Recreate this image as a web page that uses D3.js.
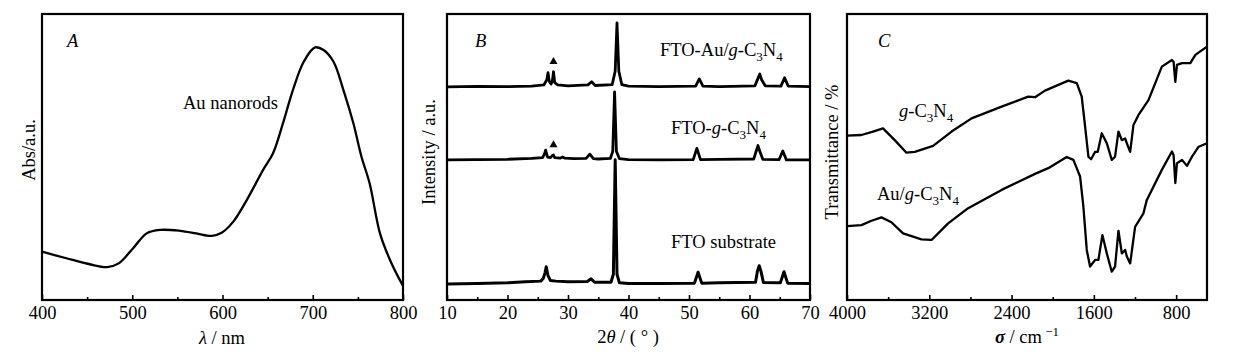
<!DOCTYPE html>
<html><head><meta charset="utf-8">
<script src="https://cdn.jsdelivr.net/npm/d3@7"></script>
<style>
body{margin:0;background:#fff;}
svg text{font-family:"Liberation Serif","Times New Roman",serif;fill:#000;}
</style></head>
<body><svg id="c" width="1237" height="360"></svg>
<script>
// ---------- Panel A: UV-vis ----------
const uvLambda = [400,427,453,472,485,501,516,531,553,571,588,599,612,627,645,656,667,678,690,702.5,712,723,734,745,754,763,774.5,785.6,798.5,800];
const uvAbs    = [16.9,14.6,12.5,11.5,12.8,18.1,23.3,24.5,24.2,23.3,22.4,23.5,27.4,35,45.5,51.3,61.8,73.4,83.3,88.3,87.4,83.3,73.4,61.8,50.1,40.8,23.3,14,5.8,5.0];
const uvTicksMajor = [400,500,600,700,800];
const uvTicksMinor = [450,550,650,750];

// ---------- Panel B: XRD ----------
const xrdTopTheta = [10,15,20,24,26.0,26.5,26.7,26.9,27.2,27.45,27.6,27.8,28.3,30,33.3,33.9,34.5,37.3,37.8,38.1,38.4,38.9,40,45,51.1,51.7,52.3,55,60.9,61.4,61.7,62.0,62.6,65.2,65.8,66.4,70];
const xrdTopI     = [74.5,74.7,74.6,74.8,75.2,77,79.5,76.5,75.5,77,79.8,76,75.2,74.9,75.2,76.3,75.0,75.3,80,96.9,80,75.3,74.8,74.6,74.8,77.3,74.8,74.6,74.9,77.5,79.0,77,74.9,74.8,77.7,74.8,74.6];
const xrdMidTheta = [10,15,20,24,25.8,26.1,26.3,26.6,27.1,27.4,27.6,27.8,28.7,29.1,29.5,31,33.0,33.6,34.2,35,37.0,37.4,37.7,38.0,38.5,40,45,50.7,51.3,51.9,55,60.7,61.1,61.4,61.7,62.2,64.9,65.5,66.1,70];
const xrdMidI     = [49,49.1,49.2,49.5,49.8,51,52.4,50,49.8,50.5,50.7,49.8,49.6,50,49.6,49.4,49.5,51.0,49.4,49.3,49.5,52,72.8,52,49.4,49.1,49.0,49.1,53,49.1,49.2,49.3,52,54,52,49.2,49.1,52.1,49,49];
const xrdBotTheta = [10,15,20,23,25.5,25.9,26.2,26.4,26.7,27.1,28,30,33.2,33.8,34.4,37.1,37.5,37.8,38.1,38.5,40,45,50.9,51.5,52.1,55,61.0,61.3,61.6,61.9,62.3,65.1,65.7,66.3,70];
const xrdBotI     = [5.6,5.8,6.0,6.4,6.6,7.5,9.5,11.6,8.5,6.8,6.6,6.4,6.5,7.4,6.2,6.2,9,49,9,6,5.8,5.8,5.9,9.7,5.9,6.0,6.2,10,12.0,10,6.1,6.0,9.9,5.9,5.8];
const xrdMarkTheta = [27.6,27.6];
const xrdMarkI     = [83.3,54.2];
const xrdTicksMajor = [10,20,30,40,50,60,70];
const xrdTicksMinor = [15,25,35,45,55,65];

// ---------- Panel C: FTIR ----------
const irW1 = [4000,3860,3747,3650,3536,3422,3341,3163,2983,2789,2497,2238,2172,2075,1848,1766,1718,1685,1653,1627,1588,1562,1523,1474,1426,1394,1361,1328,1296,1279,1247,1215,1166,1069,939,841,825,808,792,743,662,613,500];
const irT1 = [57.5,57.7,58.9,60.0,55.9,51.5,51.8,53.9,58.9,63.5,67.6,71.1,70.9,73.2,76.7,75.8,71.1,60.6,50.1,49.2,51.8,51.8,58.3,54.8,49.0,50.1,58.9,55.9,56.5,54.8,51.8,61.2,64.7,69.9,81.6,83.9,83.3,76.3,82.2,82.8,82.8,85.7,88.6];
const irW2 = [4000,3860,3762,3665,3568,3455,3276,3178,3017,2822,2497,2172,2043,1864,1799,1734,1702,1669,1637,1588,1556,1517,1474,1426,1394,1361,1328,1296,1279,1247,1199,1118,1085,939,841,825,808,792,743,695,646,581,500];
const irT2 = [25.8,26.2,27.7,28.9,27.2,23.3,21.2,21.0,26.8,32.1,38.5,44.1,46.1,50.0,49.0,43.2,32.7,17.5,11.7,14.0,14.0,22.7,16.3,9.9,11.7,24.2,16.3,17.5,15.2,12.8,25.6,30.3,35.0,45.5,51.9,50.7,40.9,47.8,49.0,46.9,50.1,53.6,54.8];
const irTicksMajor = [4000,3200,2400,1600,800];
const irTicksMinor = [3600,2800,2000,1200];

const svg = d3.select("#c");
const Y0 = 300, Y1 = 14;
const FS = 18.5, FSS = 13;

function panel(x0, x1, domain, majors, minors) {
  const x = d3.scaleLinear().domain(domain).range([x0, x1]);
  const y = d3.scaleLinear().domain([0, 100]).range([Y0, Y1]);
  const g = svg.append("g");
  const ax = g.append("g").attr("transform", `translate(0,${Y0})`)
    .call(d3.axisBottom(x).tickValues(majors).tickSizeInner(-5).tickSizeOuter(0).tickPadding(6).tickFormat(d3.format("d")));
  ax.select(".domain").remove();
  ax.selectAll(".tick line").attr("stroke", "#000").attr("stroke-width", 1.6);
  ax.selectAll(".tick text").attr("font-size", FS).attr("font-family", "Liberation Serif").attr("fill", "#000");
  const axm = g.append("g").attr("transform", `translate(0,${Y0})`)
    .call(d3.axisBottom(x).tickValues(minors).tickSizeInner(-3).tickSizeOuter(0).tickFormat(""));
  axm.select(".domain").remove();
  axm.selectAll(".tick line").attr("stroke", "#000").attr("stroke-width", 1.6);
  return {x, y, g};
}
function frame(g, x0, x1) {
  g.append("rect").attr("x", x0).attr("y", Y1).attr("width", x1 - x0).attr("height", Y0 - Y1)
    .attr("fill", "none").attr("stroke", "#000").attr("stroke-width", 2.2);
}
function drawLine(p, xs, ys, curve, w) {
  const pts = xs.map((v, i) => [v, ys[i]]);
  p.g.append("path").datum(pts).attr("fill", "none").attr("stroke", "#000")
    .attr("stroke-width", w).attr("stroke-linejoin", "round")
    .attr("d", d3.line().x(d => p.x(d[0])).y(d => p.y(d[1])).curve(curve));
}
function label(g, x, y, parts, size) {
  const t = g.append("text").attr("x", x).attr("y", y).attr("font-size", size || FS);
  parts.forEach(pt => {
    const s = t.append("tspan").text(pt.t);
    if (pt.i) s.attr("font-style", "italic");
    if (pt.b) s.attr("font-weight", "bold");
    if (pt.sub) s.attr("font-size", FSS).attr("dy", 5);
    if (pt.up) s.attr("dy", -5);
    if (pt.sup) s.attr("font-size", FSS).attr("dy", -7);
  });
  return t;
}
function ytitle(g, x, y, parts) {
  const t = label(g, 0, 0, parts);
  t.attr("text-anchor", "middle").attr("transform", `translate(${x},${y}) rotate(-90)`);
}

// Panel A
const A = panel(42, 403, [400, 800], uvTicksMajor, uvTicksMinor);
drawLine(A, uvLambda, uvAbs, d3.curveCatmullRom, 2.3);
frame(A.g, 42, 403);
label(A.g, 67, 47, [{t: "A", i: 1}]);
label(A.g, 183, 109, [{t: "Au nanorods"}]);
label(A.g, 222, 344, [{t: "λ", i: 1}, {t: " / nm"}]).attr("text-anchor", "middle");
ytitle(A.g, 35, 150, [{t: "Abs/a.u."}]);

// Panel B
const B = panel(447, 810, [10, 70], xrdTicksMajor, xrdTicksMinor);
drawLine(B, xrdTopTheta, xrdTopI, d3.curveLinear, 2.8);
drawLine(B, xrdMidTheta, xrdMidI, d3.curveLinear, 2.8);
drawLine(B, xrdBotTheta, xrdBotI, d3.curveLinear, 3.0);
B.g.selectAll(".mk").data(xrdMarkTheta.map((v, i) => [v, xrdMarkI[i]])).enter().append("path")
  .attr("transform", d => `translate(${B.x(d[0])},${B.y(d[1])})`)
  .attr("d", d3.symbol(d3.symbolTriangle, 28)).attr("fill", "#000");
frame(B.g, 447, 810);
label(B.g, 475, 47, [{t: "B", i: 1}]);
label(B.g, 660, 56, [{t: "FTO-Au/"}, {t: "g", i: 1}, {t: "-C"}, {t: "3", sub: 1}, {t: "N", up: 1}, {t: "4", sub: 1}]);
label(B.g, 671, 134, [{t: "FTO-"}, {t: "g", i: 1}, {t: "-C"}, {t: "3", sub: 1}, {t: "N", up: 1}, {t: "4", sub: 1}]);
label(B.g, 671, 248, [{t: "FTO substrate"}]);
label(B.g, 628, 343, [{t: "2"}, {t: "θ", i: 1}, {t: " / ( ° )"}]).attr("text-anchor", "middle");
ytitle(B.g, 435, 152, [{t: "Intensity / a.u."}]);

// Panel C
const C = panel(847, 1207, [4000, 500], irTicksMajor, irTicksMinor);
drawLine(C, irW1, irT1, d3.curveLinear, 2.3);
drawLine(C, irW2, irT2, d3.curveLinear, 2.3);
frame(C.g, 847, 1207);
label(C.g, 878, 47, [{t: "C", i: 1}]);
label(C.g, 899, 117, [{t: "g", i: 1}, {t: "-C"}, {t: "3", sub: 1}, {t: "N", up: 1}, {t: "4", sub: 1}]);
label(C.g, 877, 200, [{t: "Au/"}, {t: "g", i: 1}, {t: "-C"}, {t: "3", sub: 1}, {t: "N", up: 1}, {t: "4", sub: 1}]);
label(C.g, 1027, 343, [{t: "σ", i: 1, b: 1}, {t: " / cm"}, {t: " −1", sup: 1}]).attr("text-anchor", "middle");
ytitle(C.g, 838, 152, [{t: "Transmittance / %"}]);
</script></body></html>
